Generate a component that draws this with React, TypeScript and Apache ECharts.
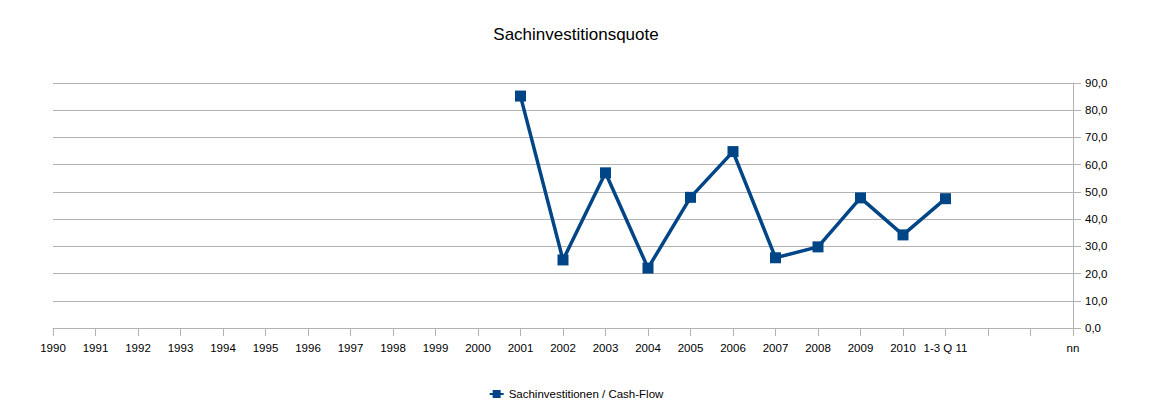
import React, { useEffect, useRef } from "react";
import * as echarts from "echarts";

const categories = ["1990","1991","1992","1993","1994","1995","1996","1997","1998","1999","2000","2001","2002","2003","2004","2005","2006","2007","2008","2009","2010","1-3 Q 11","","","nn"];
const values: (number | null)[] = [null,null,null,null,null,null,null,null,null,null,null,85.2,25,57,22,48,64.8,25.8,29.8,47.8,34.2,47.5,null,null,null];
const seriesName = "Sachinvestitionen / Cash-Flow";
const titleText = "Sachinvestitionsquote";

export default function App() {
  const ref = useRef<HTMLDivElement>(null);
  useEffect(() => {
    document.body.style.margin = "0";
    const chart = echarts.init(ref.current!, null, { renderer: "svg" });
    const font = "'Liberation Sans', Arial, sans-serif";
    chart.setOption({
      animation: false,
      backgroundColor: "#ffffff",
      title: {
        text: titleText,
        left: "center",
        top: 21,
        textStyle: { fontFamily: font, fontSize: 17, fontWeight: "normal", color: "#000" },
      },
      legend: {
        bottom: 10,
        left: "center",
        itemWidth: 14,
        itemHeight: 10,
        itemGap: 4,
        textStyle: { fontFamily: font, fontSize: 11.5, color: "#000" },
        data: [seriesName],
      },
      grid: { left: 53, right: 79, top: 83, bottom: 87, containLabel: false },
      xAxis: {
        type: "category",
        data: categories,
        boundaryGap: false,
        axisLine: { show: true, lineStyle: { color: "#b3b3b3" } },
        axisTick: { show: true, length: 8, interval: 0, lineStyle: { color: "#b3b3b3" } },
        axisLabel: { interval: 0, color: "#000", fontFamily: font, fontSize: 11.5, margin: 14 },
        splitLine: { show: false },
      },
      yAxis: {
        type: "value",
        position: "right",
        min: 0,
        max: 90,
        interval: 10,
        axisLine: { show: true, lineStyle: { color: "#b3b3b3" } },
        axisTick: { show: true, length: 8, lineStyle: { color: "#b3b3b3" } },
        axisLabel: {
          color: "#000",
          fontFamily: font,
          fontSize: 11.5,
          margin: 12,
          formatter: (v: number) => v.toFixed(1).replace(".", ","),
        },
        splitLine: { show: true, lineStyle: { color: "#b3b3b3" } },
      },
      series: [
        {
          name: seriesName,
          type: "line",
          data: values,
          connectNulls: false,
          symbol: "rect",
          symbolSize: 11,
          lineStyle: { color: "#004586", width: 3.5 },
          itemStyle: { color: "#004586" },
        },
      ],
    });
    return () => chart.dispose();
  }, []);
  return <div ref={ref} style={{ width: 1152, height: 415 }} />;
}
